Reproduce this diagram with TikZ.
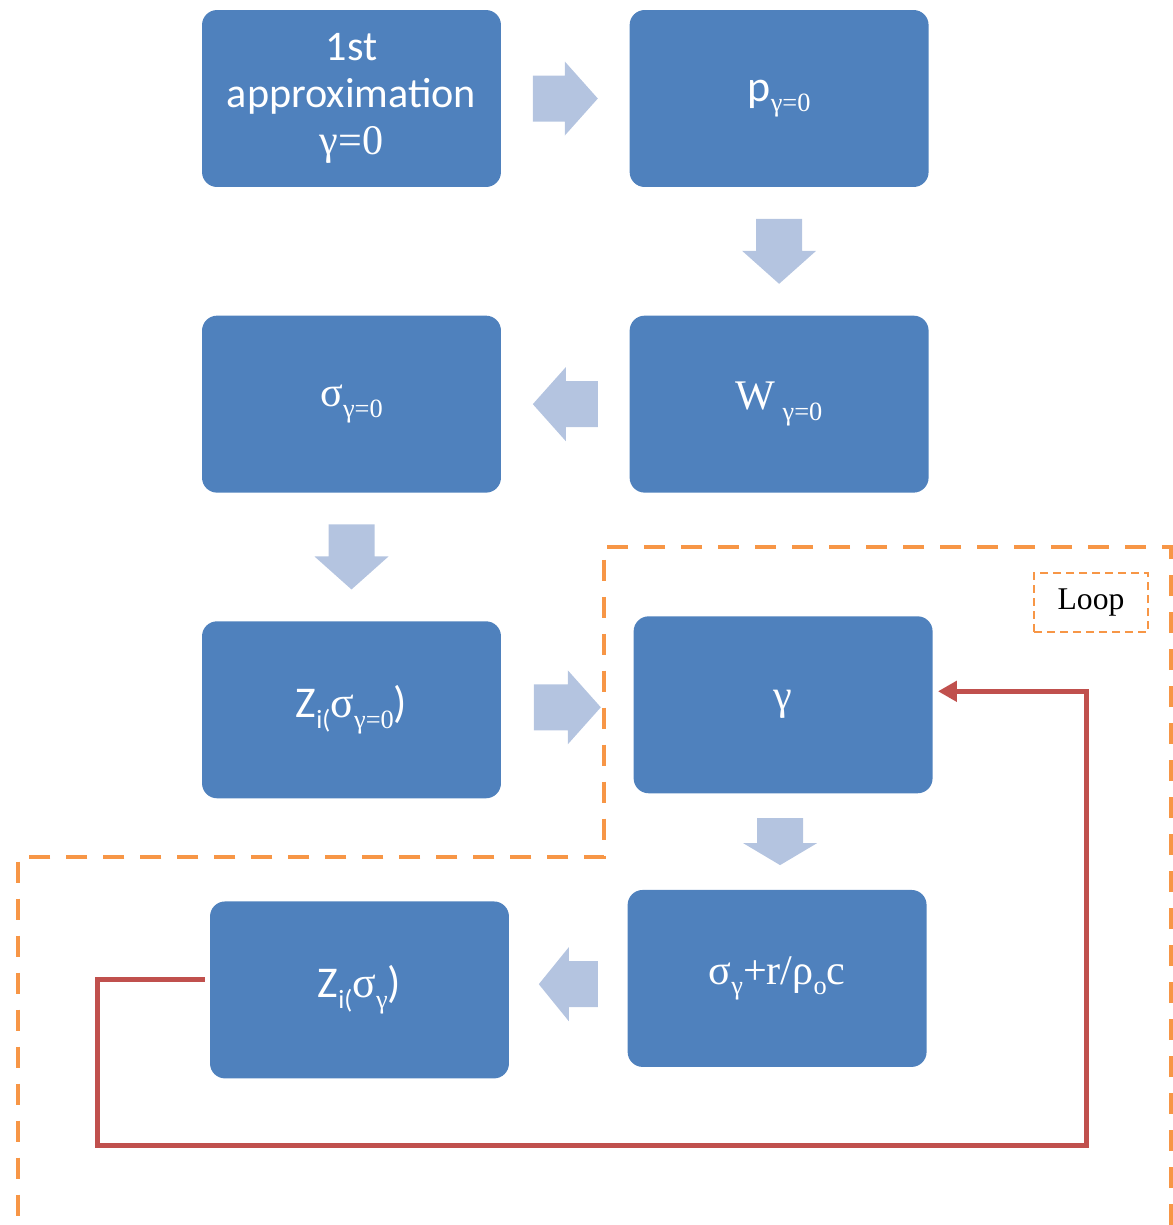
\documentclass[tikz,border=0pt]{standalone}
\usepackage{fontspec}
\setmainfont{Liberation Serif}
\newfontfamily\calibfont{Carlito}
\usepackage{tikz}
\usetikzlibrary{positioning,arrows.meta,calc}
\definecolor{boxblue}{RGB}{79,129,189}
\definecolor{arrowblue}{RGB}{180,196,224}
\definecolor{loopred}{RGB}{192,80,77}
\definecolor{looporange}{RGB}{247,150,70}
\newcommand{\sublow}[1]{\raisebox{-6pt}{\fontsize{15}{15}\selectfont #1}}

\begin{document}
\begin{tikzpicture}[
            x=0.02cm, y=-0.02cm,
            node distance=2.56cm,
            stepbox/.style={rectangle, rounded corners=0.3cm, fill=boxblue, text=white,
                        minimum width=5.98cm, minimum height=3.54cm, inner sep=2pt, align=center,
                        font=\fontsize{24}{28}\selectfont},
            sansbox/.style={stepbox, font=\calibfont\fontsize{25}{30}\selectfont},
            looptag/.style={draw=looporange, dash pattern=on 0.16cm off 0.1cm, line width=0.05cm,
                        minimum width=2.28cm, minimum height=1.18cm, font=\fontsize{18}{20}\selectfont},
            loopframe/.style={draw=looporange, line width=0.08cm, dash pattern=on 0.42cm off 0.32cm},
            loopline/.style={draw=loopred, line width=0.1cm, shorten <=0.1cm, shorten >=0.1cm,
                        -{Triangle[length=0.38cm,width=0.4cm]}},
            pics/fatarrow/.style 2 args={code={
                \fill[arrowblue] (-#1/2,-23) -- (#1/2-#2,-23) -- (#1/2-#2,-37) -- (#1/2,0)
                    -- (#1/2-#2,37) -- (#1/2-#2,23) -- (-#1/2,23) -- cycle;
            }}
        ]
            \useasboundingbox (0,0) rectangle (1173,1225);

            \node[stepbox, font=\calibfont\fontsize{24}{26.7}\selectfont] (approx) at (351.5,98.5) {
                1st\\approximation\\{\rmfamily γ=0}
            };
            \node[sansbox, right=of approx] (pzero) {p\sublow{\rmfamily γ=0}};
            \node[stepbox, below=of pzero] (wzero) {W\,\sublow{γ=0}};
            \node[stepbox, left=of wzero] (sigzero) {σ\sublow{γ=0}};
            \node[sansbox, below=of sigzero] (zzero) {Z\sublow{i(}{\rmfamily σ\sublow{γ=0}})};
            \node[stepbox, right=2.64cm of zzero, yshift=0.1cm] (gam) {γ};
            \node[stepbox, below=1.92cm of gam, xshift=-0.12cm] (sigsum) {σ\sublow{γ}+r/ρ\sublow{o}c};
            \node[sansbox, left=2.36cm of sigsum, yshift=-0.23cm] (zgam) {Z\sublow{i(}{\rmfamily σ\sublow{γ}})};

            \pic at ($(approx.east)!0.5!(pzero.west)$) {fatarrow={65}{33}};
            \pic[rotate=-90] at ($(pzero.south)!0.5!(wzero.north)$) {fatarrow={65}{33}};
            \pic[rotate=180] at ($(wzero.west)!0.5!(sigzero.east)$) {fatarrow={65}{33}};
            \pic[rotate=-90] at ($(sigzero.south)!0.5!(zzero.north)$) {fatarrow={65}{33}};
            \pic at ($(zzero.east)!0.5!(gam.west)$) {fatarrow={67}{33}};
            \pic[rotate=-90] at ($(gam.south)!0.5!(sigsum.north)$) {fatarrow={47}{22}};
            \pic[rotate=180] at ($(sigsum.west)!0.5!(zgam.east)$) {fatarrow={59}{30}};

            \draw[loopframe] (1171,1225) -- (1171,547) -- (604,547) -- (604,857) -- (18,857) -- (18,1225);
            \node[looptag] (looplabel) at (1091,602.5) {Loop};

            \coordinate (backleft) at (97,1145);
            \coordinate (backright) at (1086,1145);
            \draw[loopline] ([yshift=0.2cm]zgam.west) -| (backleft) -- (backright) |- ([yshift=0.27cm]gam.east);
        \end{tikzpicture}
\end{document}
